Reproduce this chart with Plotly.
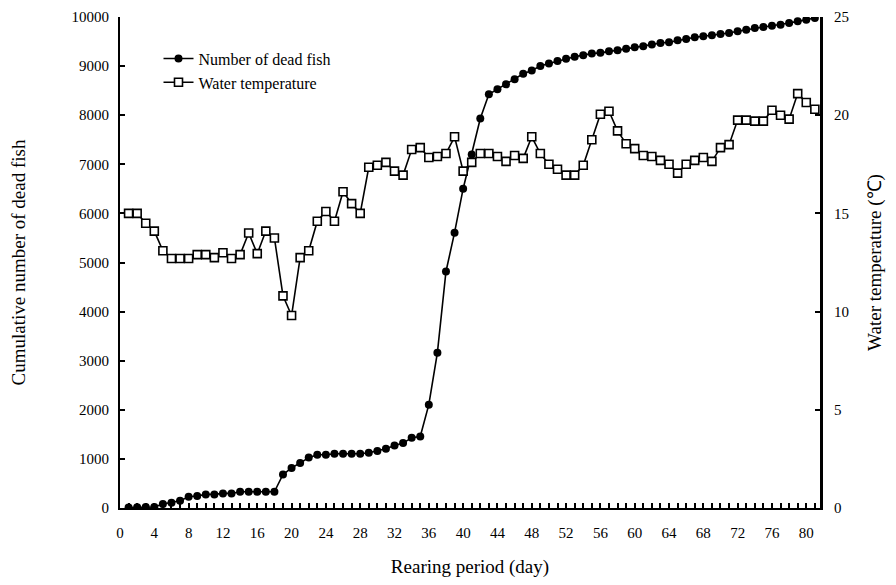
import plotly.graph_objects as go

days = list(range(1, 82))

dead_fish = [10, 15, 20, 20, 80, 107, 148, 229, 243, 277,
             277, 297, 297, 331, 331, 331, 331, 331, 682, 816,
             917, 1026, 1086, 1086, 1106, 1106, 1106, 1106, 1126, 1160,
             1207, 1275, 1322, 1430, 1457, 2105, 3164, 4817, 5607, 6503,
             7200, 7934, 8426, 8530, 8629, 8730, 8845, 8912, 9000, 9054,
             9102, 9148, 9189, 9223, 9256, 9270, 9304, 9325, 9351, 9385,
             9405, 9438, 9472, 9486, 9526, 9553, 9587, 9607, 9628, 9654,
             9675, 9709, 9742, 9776, 9796, 9823, 9843, 9877, 9911, 9945,
             9978]

water_temp = [15.0, 15.0, 14.5, 14.1, 13.1, 12.7, 12.7, 12.7, 12.9, 12.9,
              12.75, 13.0, 12.7, 12.9, 14.0, 12.95, 14.1, 13.75, 10.8, 9.8,
              12.75, 13.1, 14.6, 15.1, 14.6, 16.1, 15.5, 15.0, 17.35, 17.45,
              17.6, 17.15, 16.95, 18.25, 18.35, 17.85, 17.9, 18.05, 18.9, 17.15,
              17.6, 18.05, 18.05, 17.9, 17.65, 17.95, 17.8, 18.9, 18.05, 17.5,
              17.25, 16.95, 16.95, 17.45, 18.75, 20.05, 20.2, 19.2, 18.55, 18.3,
              17.95, 17.9, 17.7, 17.5, 17.05, 17.5, 17.7, 17.85, 17.65, 18.35,
              18.5, 19.75, 19.75, 19.7, 19.7, 20.25, 20.0, 19.8, 21.1, 20.65,
              20.3]

x_tick_vals = list(range(0, 82))
x_tick_text = [str(v) if v % 4 == 0 else "" for v in x_tick_vals]
y1_ticks = list(range(0, 10001, 1000))
y1_text = [str(v) for v in y1_ticks]
y2_ticks = [0, 5, 10, 15, 20, 25]

FONT = "Liberation Serif, Times New Roman, serif"

fig = go.Figure()

fig.add_trace(go.Scatter(
    x=days, y=water_temp, name="Water temperature", yaxis="y2",
    mode="lines+markers", legendgroup="b",
    line=dict(color="black", width=1.6),
    marker=dict(symbol="square", size=8, color="white",
                line=dict(color="black", width=1.6)),
))

fig.add_trace(go.Scatter(
    x=days, y=dead_fish, name="Number of dead fish", yaxis="y",
    mode="lines+markers", legendgroup="a",
    line=dict(color="black", width=1.6),
    marker=dict(symbol="circle", size=8, color="black"),
))

fig.update_layout(
    width=888, height=577,
    margin=dict(l=112, r=76, t=9, b=77, autoexpand=False),
    paper_bgcolor="white", plot_bgcolor="white",
    font=dict(family=FONT, size=15, color="black"),
    showlegend=True,
    legend=dict(x=0.055, y=0.95, xanchor="left", yanchor="top",
                bgcolor="rgba(255,255,255,0)", traceorder="reversed",
                font=dict(family=FONT, size=16, color="black"),
                itemwidth=30, tracegroupgap=6),
    xaxis=dict(
        range=[0, 81.6], tickmode="array", tickvals=x_tick_vals, ticktext=x_tick_text,
        ticks="inside", ticklen=5, tickwidth=1.5, tickcolor="black",
        showline=True, linecolor="black", linewidth=2, showgrid=False, zeroline=False,
        ticklabelstandoff=10, ticklabeloverflow="allow",
        tickfont=dict(family=FONT, size=15, color="black"),
        title=dict(text="Rearing period (day)", font=dict(family=FONT, size=19, color="black"),
                   standoff=20),
    ),
    yaxis=dict(
        range=[0, 10000], tickmode="array", tickvals=y1_ticks, ticktext=y1_text,
        ticks="inside", ticklen=5, tickwidth=1.5, tickcolor="black",
        showline=True, linecolor="black", linewidth=2, showgrid=False, zeroline=False,
        ticklabelstandoff=6, ticklabeloverflow="allow",
        tickfont=dict(family=FONT, size=15, color="black"),
        title=dict(text="Cumulative number of dead fish",
                   font=dict(family=FONT, size=19, color="black"), standoff=45),
    ),
    yaxis2=dict(
        range=[0, 25], tickmode="array", tickvals=y2_ticks, overlaying="y", side="right",
        ticks="inside", ticklen=5, tickwidth=1.5, tickcolor="black",
        showline=True, linecolor="black", linewidth=3, showgrid=False, zeroline=False,
        ticklabelstandoff=8, ticklabeloverflow="allow",
        tickfont=dict(family=FONT, size=15, color="black"),
        title=dict(text="Water temperature (℃)",
                   font=dict(family=FONT, size=19, color="black"), standoff=20),
    ),
)

fig.write_html("out.html")
